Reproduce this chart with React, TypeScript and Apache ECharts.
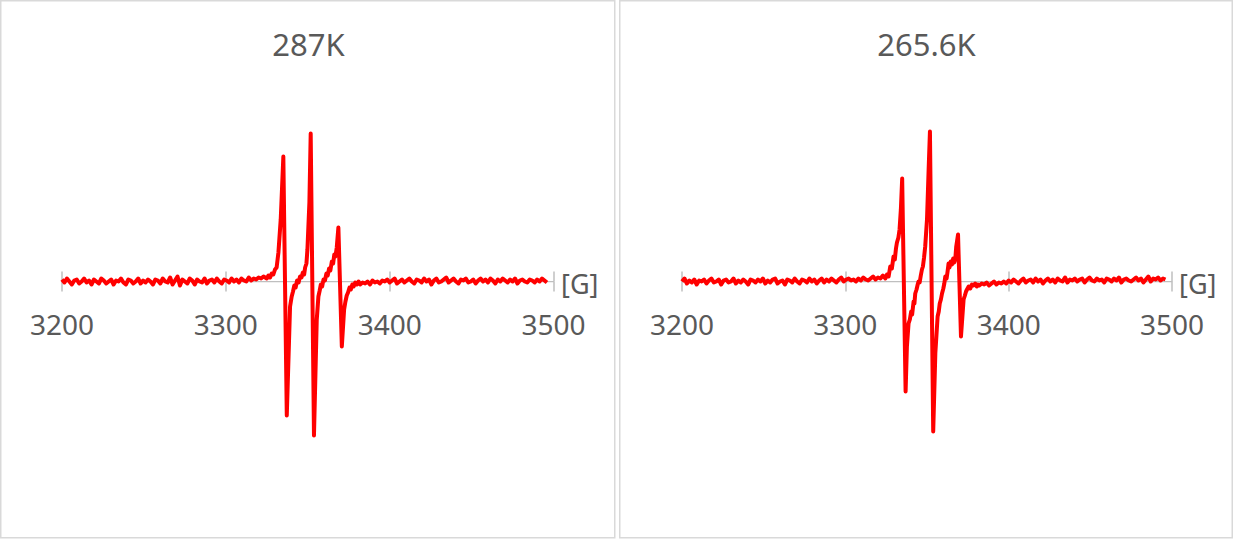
import React, { useEffect, useRef } from "react";
import * as echarts from "echarts";

// Field sweep (G) and axis ticks
const FIELD_START = 3200;
const FIELD_STEP = 1.5;
const POST_START = 3382;
const TICKS = [3200, 3300, 3400, 3500];
const TITLES = ["287K", "265.6K"];
const UNIT_LABEL = "[G]";

// ---- 287 K spectrum ----
const pre287 = [
  2, -1, 3, 0, -3, 1, 2, -2, 0, 3,
  -1, 1, -3, 2, 0, -2, 3, 1, -2, 0,
  2, -3, 1, 0, 3, -1, -3, 2, 1, -2,
  0, 3, -2, 1, -1, 2, 0, -3, 2, 1,
  -2, 3, 0, -1, 4, -3, 1, 5, -4, 2,
  0, -2, 3, 1, -3, 2, 0, -1, 3, -2,
  1, 2, -1, 3, 0, -2, 2, 1, -1, 3,
  0, 2, -1, 3, 1, 0, 4, 1, 3, 2,
  4, 3, 5,
];
const core287: [number, number][] = [
  [3325, 3], [3326, 6], [3327, 4], [3328, 8], [3329, 7], [3330, 12], [3331, 14],
  [3332.1, 29], [3333.5, 62], [3335.1, 125], [3337.2, -134], [3339.2, -25],
  [3340.2, -15], [3341.0, -10], [3341.8, -4], [3342.6, -6], [3343.5, 1],
  [3344.4, -1], [3345.3, 5], [3346.2, 4], [3347.0, 9], [3347.8, 7], [3348.4, 14],
  [3349.2, 18], [3349.8, 32], [3351.0, 79], [3351.8, 148], [3353.8, -154],
  [3355.5, -38], [3356.5, -15], [3357.3, -9], [3358.0, -3], [3358.8, -5],
  [3359.6, 2], [3360.5, 1], [3361.4, 8], [3362.2, 6], [3363.0, 13], [3363.8, 11],
  [3364.7, 20], [3365.5, 18], [3366.2, 27], [3366.9, 25], [3367.7, 34],
  [3368.7, 54], [3370.8, -65], [3372.2, -28], [3373.0, -20], [3373.8, -14],
  [3374.6, -11], [3375.5, -6], [3376.3, -8], [3377.2, -3], [3378.0, -5],
  [3379.0, -1], [3380, -3], [3381, 0],
];
const post287 = [
  -3, -1, -2, 0, -3, 1, -1, 0, -2, 1,
  0, 2, -1, 1, 3, -2, 0, 2, -1, 1,
  3, 0, -2, 2, 1, -1, 3, 0, 2, -3,
  1, 3, -1, 0, 2, 4, -1, 1, 3, 0,
  -2, 2, 1, 3, -1, 0, 2, -2, 1, 3,
  0, 2, -1, 3, 1, -2, 2, 0, 3, 1,
  -1, 2, 0, 3, -2, 1, 2, 0, -1, 2,
  1, -1, 2, 0, 3, 1, -1,
];

// ---- 265.6 K spectrum ----
const pre2656 = [
  0, 3, -2, 1, -1, 2, -3, 1, 0, 2,
  -2, 1, 3, -1, 0, 2, -3, 1, 2, -1,
  0, 3, -2, 1, -1, 2, 0, -3, 2, 1,
  -1, 2, 0, 3, -2, 1, -1, 2, 3, -2,
  0, 1, -3, 2, 1, -1, 3, 0, -2, 2,
  1, -1, 3, 0, 2, -2, 1, 3, -1, 2,
  0, 3, 1, -1, 2, 4, 0, 2, 3, 1,
  2, 0, 3, 1, 4, 2, 1, 3, 5, 2,
  4, 3, 6,
];
const core2656: [number, number][] = [
  [3324.5, 3], [3325.5, 7], [3326.5, 5], [3327.5, 15], [3328.5, 13], [3329.5, 25],
  [3330.3, 22], [3331, 33], [3331.6, 39], [3332.5, 44], [3333.2, 52], [3334.0, 72],
  [3334.8, 103], [3336.9, -110], [3337.7, -65], [3338.7, -42], [3339.5, -38],
  [3340.3, -30], [3340.9, -33], [3341.8, -20], [3342.3, -22], [3342.8, -12],
  [3343.6, -8], [3344.3, -3], [3344.8, 0], [3345.5, -1], [3346.2, 6], [3346.9, 12],
  [3347.5, 15], [3348.2, 24], [3348.9, 35], [3350.0, 62], [3351.0, 112],
  [3351.8, 150], [3353.8, -150], [3355.1, -72], [3356.5, -35], [3357.2, -30],
  [3357.8, -22], [3358.5, -18], [3359.2, -12], [3360.0, -7], [3360.6, -2],
  [3361.2, 5], [3362.0, 3], [3362.6, 10], [3363.2, 18], [3363.8, 14], [3364.5, 20],
  [3365.3, 17], [3366.0, 23], [3366.7, 19], [3367.3, 22], [3367.9, 35], [3369.0, 47],
  [3370.8, -55], [3372.4, -18], [3373.2, -14], [3373.9, -10], [3374.5, -8],
  [3375.5, -5], [3376.5, -7], [3377.5, -3], [3378.5, -4], [3379.5, -2], [3380.5, -5],
  [3381.2, -3],
];
const post2656 = [
  -4, -2, -3, -1, -4, -2, 0, -3, -1, -2,
  0, -2, 1, -1, 2, 0, -2, 1, 3, -1,
  1, 2, -1, 3, 0, 2, -2, 1, 3, 0,
  2, -1, 3, 1, 0, 4, -1, 2, 1, 3,
  0, 2, 3, -1, 2, 4, 1, 0, 3, 1,
  2, -1, 3, 2, 0, 3, 1, 4, -1, 2,
  3, 1, 0, 2, 4, 1, 3, -1, 2, 5,
  0, 3, 2, 4, 1, 3, 2,
];

function buildSeries(pre: number[], core: [number, number][], post: number[]) {
  const out: [number, number][] = [];
  pre.forEach((v, i) => out.push([FIELD_START + i * FIELD_STEP, v]));
  core.forEach((p) => out.push([p[0], p[1]]));
  post.forEach((v, i) => out.push([POST_START + i * FIELD_STEP, v]));
  return out;
}

const FONT = "'Noto Sans', 'Open Sans', sans-serif";
const GRAY_TEXT = "#595959";
const AXIS_GRAY = "#bfbfbf";

export default function App() {
  const ref = useRef<HTMLDivElement>(null);

  useEffect(() => {
    if (!ref.current) return;
    const chart = echarts.init(ref.current, undefined, { renderer: "svg" });

    const panels = [
      { left: 62, width: 491.5 },
      { left: 682, width: 490 },
    ];
    const ZERO_Y = 281.5;
    const grids: any[] = [];
    const xAxes: any[] = [];
    const yAxes: any[] = [];
    panels.forEach((p) => {
      // data grid (zero line at ZERO_Y)
      grids.push({ left: p.left, top: ZERO_Y - 200, width: p.width, height: 400 });
      // label grid: its bottom edge sits on the zero line
      grids.push({ left: p.left, top: 0, width: p.width, height: ZERO_Y });
    });
    panels.forEach((_, pi) => {
      const dataGrid = pi * 2;
      const labelGrid = pi * 2 + 1;
      yAxes.push({ type: "value", gridIndex: dataGrid, min: -200, max: 200, show: false });
      yAxes.push({ type: "value", gridIndex: labelGrid, min: 0, max: 1, show: false });
      xAxes.push({
        type: "value",
        gridIndex: dataGrid,
        min: TICKS[0],
        max: TICKS[TICKS.length - 1],
        interval: 100,
        position: "bottom",
        axisLine: { show: true, onZero: true, onZeroAxisIndex: dataGrid, lineStyle: { color: AXIS_GRAY, width: 1.25 } },
        axisTick: { show: true, inside: true, length: 10, lineStyle: { color: AXIS_GRAY, width: 1.5 } },
        axisLabel: { show: false },
        splitLine: { show: false },
      });
      xAxes.push({
        type: "value",
        gridIndex: labelGrid,
        min: TICKS[0],
        max: TICKS[TICKS.length - 1],
        interval: 100,
        position: "bottom",
        axisLine: { show: false, onZero: false },
        axisTick: { show: true, inside: false, length: 10, lineStyle: { color: AXIS_GRAY, width: 1.5 } },
        axisLabel: {
          show: true,
          margin: 28,
          color: GRAY_TEXT,
          fontSize: 28,
          fontFamily: FONT,
          formatter: (v: number) => String(v),
        },
        splitLine: { show: false },
      });
    });

    const lineStyle = { color: "#ff0000", width: 4, join: "round" as const };

    chart.setOption({
      animation: false,
      grid: grids,
      xAxis: xAxes,
      yAxis: yAxes,
      series: [
        {
          type: "line",
          xAxisIndex: 0,
          yAxisIndex: 0,
          data: buildSeries(pre287, core287, post287),
          showSymbol: false,
          symbol: "none",
          lineStyle,
          z: 5,
        },
        {
          type: "line",
          xAxisIndex: 2,
          yAxisIndex: 2,
          data: buildSeries(pre2656, core2656, post2656),
          showSymbol: false,
          symbol: "none",
          lineStyle,
          z: 5,
        },
      ],
      graphic: [
        {
          type: "rect",
          shape: { x: 0.75, y: 0.75, width: 614, height: 537 },
          style: { fill: "none", stroke: "#d9d9d9", lineWidth: 1.5 },
          silent: true,
        },
        {
          type: "rect",
          shape: { x: 619.75, y: 0.75, width: 612.5, height: 537 },
          style: { fill: "none", stroke: "#d9d9d9", lineWidth: 1.5 },
          silent: true,
        },
        {
          type: "text",
          x: 308.5,
          y: 44,
          style: { text: TITLES[0], fill: GRAY_TEXT, font: `31px ${FONT}`, textAlign: "center", textVerticalAlign: "middle" },
        },
        {
          type: "text",
          x: 926.5,
          y: 44,
          style: { text: TITLES[1], fill: GRAY_TEXT, font: `31px ${FONT}`, textAlign: "center", textVerticalAlign: "middle" },
        },
        {
          type: "text",
          x: 561,
          y: 283,
          style: { text: UNIT_LABEL, fill: GRAY_TEXT, font: `27px ${FONT}`, textAlign: "left", textVerticalAlign: "middle" },
        },
        {
          type: "text",
          x: 1179,
          y: 283,
          style: { text: UNIT_LABEL, fill: GRAY_TEXT, font: `27px ${FONT}`, textAlign: "left", textVerticalAlign: "middle" },
        },
      ],
    });

    return () => chart.dispose();
  }, []);

  return (
    <div
      ref={ref}
      style={{ position: "absolute", left: 0, top: 0, width: 1233, height: 539, background: "#ffffff" }}
    />
  );
}
